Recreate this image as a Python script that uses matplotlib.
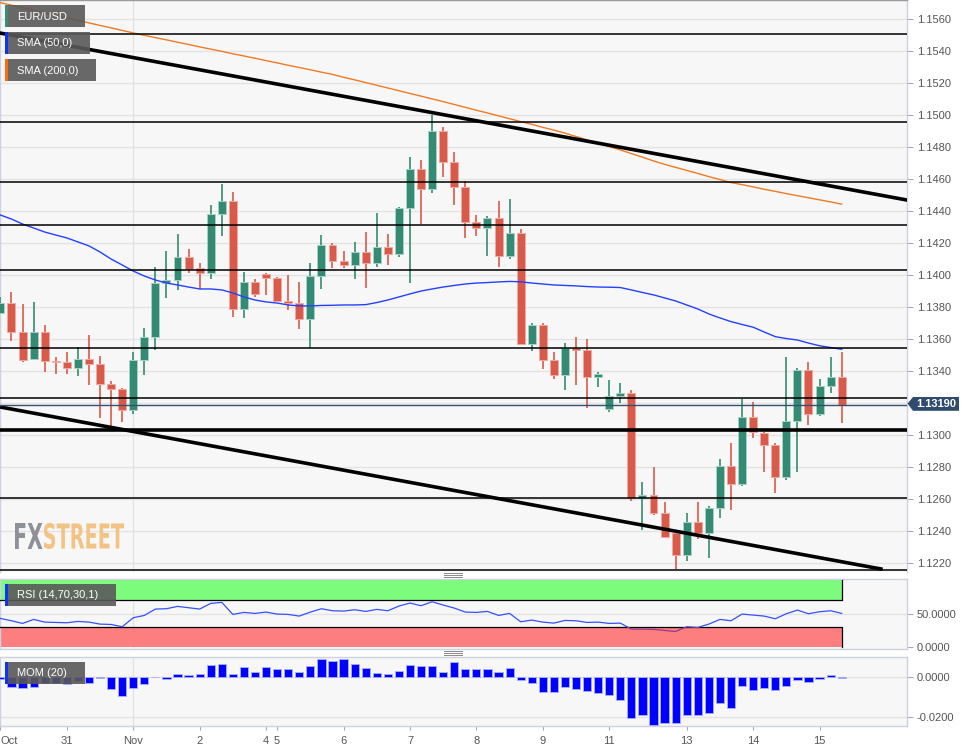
import matplotlib
matplotlib.use("Agg")
import matplotlib.pyplot as plt
import numpy as np
from matplotlib.patches import Rectangle, Polygon, PathPatch
from matplotlib.textpath import TextPath
from matplotlib.font_manager import FontProperties
from matplotlib.transforms import Affine2D, IdentityTransform
from matplotlib.lines import Line2D

plt.rcParams['font.family'] = ['Liberation Sans', 'DejaVu Sans']

# ---------------- data (EUR/USD, 4h candles, Oct 30 - Nov 15) ----------------
opens = [1.13764, 1.13823, 1.13642, 1.13473, 1.13642, 1.13464, 1.13458, 1.13417, 1.13475, 1.13444,
         1.13319, 1.13286, 1.13156, 1.13469, 1.13611, 1.13952, 1.13969, 1.14111, 1.14044, 1.14011,
         1.14379, 1.14463, 1.13786, 1.13956, 1.14008, 1.13981, 1.13838, 1.13823, 1.13727, 1.13996,
         1.14189, 1.14089, 1.14064, 1.14142, 1.14077, 1.14173, 1.14129, 1.14419, 1.14661, 1.14539,
         1.14902, 1.14708, 1.14552, 1.14333, 1.14296, 1.14358, 1.14117, 1.14263, 1.13569, 1.13686,
         1.13469, 1.13374, 1.13546, 1.13531, 1.13364, 1.13161, 1.13246, 1.13264, 1.12604, 1.12625,
         1.12511, 1.12386, 1.12248, 1.12458, 1.12389, 1.12542, 1.12808, 1.12694, 1.13114, 1.13011,
         1.12938, 1.12736, 1.13088, 1.13406, 1.13129, 1.13306, 1.13364]
highs = [1.13864, 1.13892, 1.13817, 1.13829, 1.13686, 1.13489, 1.13517, 1.13548, 1.13625, 1.13496,
         1.13336, 1.13294, 1.13517, 1.13667, 1.14048, 1.14152, 1.14256, 1.14163, 1.14073, 1.14438,
         1.14569, 1.14517, 1.14017, 1.13975, 1.14010, 1.13990, 1.13999, 1.13954, 1.14073, 1.14250,
         1.14198, 1.14152, 1.14204, 1.14271, 1.14386, 1.14254, 1.14423, 1.14739, 1.14719, 1.15000,
         1.14923, 1.14767, 1.14588, 1.14375, 1.14369, 1.14463, 1.14475, 1.14288, 1.13698, 1.13698,
         1.13521, 1.13573, 1.13614, 1.13598, 1.13392, 1.13344, 1.13327, 1.13281, 1.12708, 1.12802,
         1.12583, 1.12406, 1.12511, 1.12583, 1.12556, 1.12848, 1.12952, 1.13223, 1.13204, 1.13021,
         1.12948, 1.13489, 1.13417, 1.13454, 1.13348, 1.13486, 1.13521]
lows = [1.13760, 1.13588, 1.13458, 1.13467, 1.13392, 1.13381, 1.13379, 1.13369, 1.13313, 1.13104,
        1.13052, 1.13083, 1.13131, 1.13375, 1.13531, 1.13854, 1.13906, 1.14011, 1.13913, 1.13973,
        1.14244, 1.13739, 1.13729, 1.13864, 1.13873, 1.13830, 1.13781, 1.13661, 1.13542, 1.13911,
        1.14042, 1.14042, 1.13973, 1.13917, 1.14052, 1.14063, 1.14114, 1.13952, 1.14319, 1.14514,
        1.14614, 1.14436, 1.14229, 1.14246, 1.14121, 1.14048, 1.14098, 1.13560, 1.13525, 1.13411,
        1.13353, 1.13281, 1.13311, 1.13167, 1.13302, 1.13146, 1.13198, 1.12588, 1.12406, 1.12500,
        1.12361, 1.12161, 1.12213, 1.12348, 1.12229, 1.12479, 1.12531, 1.12683, 1.12979, 1.12767,
        1.12636, 1.12719, 1.12767, 1.13061, 1.13119, 1.13264, 1.13077]
closes = [1.13823, 1.13642, 1.13469, 1.13642, 1.13464, 1.13458, 1.13417, 1.13475, 1.13444, 1.13319,
          1.13286, 1.13156, 1.13469, 1.13611, 1.13952, 1.13969, 1.14111, 1.14036, 1.14011, 1.14379,
          1.14463, 1.13786, 1.13956, 1.13879, 1.13983, 1.13839, 1.13823, 1.13727, 1.13996, 1.14189,
          1.14089, 1.14064, 1.14142, 1.14077, 1.14173, 1.14129, 1.14419, 1.14661, 1.14539, 1.14902,
          1.14708, 1.14552, 1.14333, 1.14296, 1.14358, 1.14117, 1.14263, 1.13569, 1.13686, 1.13469,
          1.13374, 1.13546, 1.13531, 1.13364, 1.13381, 1.13246, 1.13264, 1.12604, 1.12625, 1.12511,
          1.12364, 1.12248, 1.12458, 1.12389, 1.12542, 1.12808, 1.12694, 1.13114, 1.13017, 1.12938,
          1.12736, 1.13088, 1.13406, 1.13129, 1.13306, 1.13364, 1.13190]

sma50 = [1.14375, 1.14350, 1.14319, 1.14294, 1.14269, 1.14250, 1.14232, 1.14207, 1.14182, 1.14144,
         1.14100, 1.14063, 1.14025, 1.13994, 1.13969, 1.13950, 1.13938, 1.13925, 1.13913, 1.13913,
         1.13907, 1.13888, 1.13863, 1.13844, 1.13832, 1.13825, 1.13813, 1.13807, 1.13807, 1.13810,
         1.13811, 1.13813, 1.13813, 1.13815, 1.13828, 1.13844, 1.13863, 1.13882, 1.13900, 1.13913,
         1.13925, 1.13935, 1.13944, 1.13950, 1.13953, 1.13957, 1.13960, 1.13958, 1.13950, 1.13944,
         1.13938, 1.13935, 1.13932, 1.13928, 1.13925, 1.13924, 1.13922, 1.13907, 1.13891, 1.13876,
         1.13857, 1.13838, 1.13813, 1.13788, 1.13757, 1.13732, 1.13709, 1.13691, 1.13674, 1.13644,
         1.13615, 1.13603, 1.13594, 1.13575, 1.13558, 1.13547, 1.13536]
sma200 = [1.15702, 1.15687, 1.15671, 1.15655, 1.15639, 1.15623, 1.15608, 1.15592, 1.15576, 1.15560,
          1.15545, 1.15529, 1.15513, 1.15498, 1.15484, 1.15470, 1.15455, 1.15441, 1.15426, 1.15412,
          1.15398, 1.15383, 1.15369, 1.15355, 1.15340, 1.15326, 1.15311, 1.15297, 1.15283, 1.15268,
          1.15254, 1.15236, 1.15220, 1.15203, 1.15186, 1.15169, 1.15152, 1.15135, 1.15118, 1.15101,
          1.15084, 1.15066, 1.15048, 1.15030, 1.15013, 1.14995, 1.14977, 1.14959, 1.14942, 1.14923,
          1.14906, 1.14887, 1.14866, 1.14845, 1.14824, 1.14803, 1.14782, 1.14759, 1.14737, 1.14713,
          1.14692, 1.14673, 1.14654, 1.14635, 1.14615, 1.14597, 1.14578, 1.14565, 1.14551, 1.14536,
          1.14523, 1.14509, 1.14496, 1.14483, 1.14470, 1.14457, 1.14443]
rsi = [43, 39.5, 35.5, 41.5, 37.5, 37, 36.5, 38.5, 37.5, 34.5,
       34, 30.5, 44, 47.5, 57, 57.5, 61, 59, 57, 65.5,
       67, 49, 52, 50.5, 52.5, 49.5, 49, 46.5, 52.5, 57.5,
       54.5, 54, 56, 53.5, 56.5, 54.5, 61.5, 66, 62, 68,
       63, 58.5, 52.5, 52, 53.5, 47.5, 50.5, 38, 40.5, 37.5,
       36, 40, 39.5, 37, 37.5, 35.5, 36, 27, 27, 26.5,
       25, 23.5, 30.5, 29.5, 34.5, 41.5, 39.5, 49.5, 48, 46.5,
       42.5, 50, 55.5, 50, 53, 54.5, 50.5]
mom = [-0.0006, -0.0047, -0.0052, -0.0047, -0.0027, -0.0027, -0.0034, -0.0017, -0.0030, -0.0005,
       -0.0059, -0.0092, -0.0055, -0.0035, 0.0000, -0.0009, 0.0017, 0.0013, 0.0015, 0.0062,
       0.0065, 0.0015, 0.0050, 0.0025, 0.0054, 0.0040, 0.0042, 0.0027, 0.0057, 0.0091,
       0.0084, 0.0092, 0.0069, 0.0049, 0.0024, 0.0017, 0.0034, 0.0064, 0.0055, 0.0055,
       0.0027, 0.0079, 0.0042, 0.0042, 0.0040, 0.0029, 0.0045, -0.0013, -0.0030, -0.0072,
       -0.0072, -0.0050, -0.0060, -0.0071, -0.0077, -0.0087, -0.0114, -0.0205, -0.0191, -0.0240,
       -0.0230, -0.0230, -0.0188, -0.0191, -0.0181, -0.0129, -0.0156, -0.0044, -0.0065, -0.0052,
       -0.0062, -0.0044, -0.0013, -0.0022, -0.0007, 0.0012, -0.0005]

x_labels = ['Oct', '31', 'Nov', '2', '4', '5', '6', '7', '8', '9', '11', '13', '14', '15']
x_label_idx = [0, 6, 12, 18, 24, 25, 31, 37, 43, 49, 55, 62, 68, 74]
month_start_idx = 12
price_ticks = [1.1220, 1.1240, 1.1260, 1.1280, 1.1300, 1.1320, 1.1340, 1.1360, 1.1380,
               1.1400, 1.1420, 1.1440, 1.1460, 1.1480, 1.1500, 1.1520, 1.1540, 1.1560]
hidden_tick = 1.1320  # covered by the last-price tag
rsi_ticks = [0, 50]
mom_ticks = [-0.02, 0.0]

sr_levels = [1.15506, 1.14956, 1.14581, 1.14313, 1.14031, 1.13544, 1.13231, 1.12606, 1.12156]
key_level = 1.13031
upper_trend_idx = [0, 80]
upper_trend_px = [1.15512, 1.14493]
lower_trend_idx = [0, 79.7]
lower_trend_px = [1.13175, 1.12161]
last_price = 1.13190
rsi_upper, rsi_lower = 70, 30

for arr in (opens, highs, lows, closes, sma50, sma200, rsi, mom):
    assert len(arr) == 77

# ---------------- style ----------------
W, H = 978, 752
GREEN, RED = '#358a73', '#d85a4b'
GREEN_E, RED_E = '#a6d2c5', '#f1aaa1'
BG = '#f7f7f7'
GRID = '#e3e3e3'
SPINE = '#cdd1e0'
LABEL = '#555555'
XL = (-0.036, 81.9)

fig = plt.figure(figsize=(W / 100, H / 100), dpi=100)
fig.patch.set_facecolor('white')


def fax(x0, y0, x1, y1):
    return fig.add_axes([x0 / W, 1 - y1 / H, (x1 - x0) / W, (y1 - y0) / H])


ax = fax(0, 0, 907, 572)
ax_rsi = fax(0, 579, 907, 648.5)
ax_mom = fax(0, 657.3, 907, 726)

for a in (ax, ax_rsi, ax_mom):
    a.set_facecolor(BG)
    a.set_xlim(*XL)
    a.yaxis.tick_right()
    a.tick_params(axis='y', length=4, color='#aaaaaa', labelcolor=LABEL, labelsize=8, pad=3)
    for s in a.spines.values():
        s.set_color(SPINE)
        s.set_linewidth(1)
    a.axvline(month_start_idx, color=GRID, lw=1, zorder=0)

ax.spines['top'].set_color('#9a9a9a')
ax.spines['bottom'].set_visible(False)
for a in (ax, ax_rsi):
    a.tick_params(axis='x', bottom=False, labelbottom=False)

# ---------------- main price panel ----------------
k = np.arange(len(closes))
o = np.array(opens); c = np.array(closes); h = np.array(highs); l = np.array(lows)
up = c >= o
cols = np.where(up, GREEN, RED)
ecols = np.where(up, GREEN_E, RED_E)

ax.set_ylim(1.12144, 1.15719)
ax.set_yticks(price_ticks)
ax.set_yticklabels(['' if abs(t - hidden_tick) < 1e-6 else f'{t:.4f}' for t in price_ticks])
for t in price_ticks:
    ax.axhline(t, color=GRID, lw=1, zorder=0)

ax.vlines(k, l, h, colors=cols, lw=1.2, zorder=3)
ax.bar(k, np.maximum(np.abs(c - o), 0.00005), bottom=np.minimum(o, c), width=0.72,
       color=cols, edgecolor=ecols, linewidth=0.7, zorder=4)

ax.plot(k, sma50, color='#2440ff', lw=1.0, zorder=5)
ax.plot(k, sma200, color='#f07a22', lw=1.0, zorder=5)

for lv in sr_levels:
    ax.axhline(lv, color='black', lw=1.1, zorder=6)
ax.axhline(key_level, color='black', lw=2.6, zorder=6)
ax.axline((upper_trend_idx[0], upper_trend_px[0]), (upper_trend_idx[1], upper_trend_px[1]),
          color='black', lw=2.6, zorder=6)
slope = (lower_trend_px[1] - lower_trend_px[0]) / (lower_trend_idx[1] - lower_trend_idx[0])
ax.plot([XL[0], lower_trend_idx[1]],
        [lower_trend_px[0] + slope * (XL[0] - lower_trend_idx[0]), lower_trend_px[1]],
        color='black', lw=2.6, zorder=6, solid_capstyle='butt')
ax.axhline(last_price, color='#34506f', lw=1.0, zorder=6)

# ---------------- RSI panel ----------------
ax_rsi.set_ylim(-2, 102)
ax_rsi.set_yticks(rsi_ticks)
ax_rsi.set_yticklabels([f'{t:.4f}' for t in rsi_ticks])
ax_rsi.axhline(50, color=GRID, lw=1, zorder=0)
xe = k[-1]
ax_rsi.fill_between([XL[0], xe], rsi_upper, 100, color='#7dfb7d', lw=0, zorder=2)
ax_rsi.fill_between([XL[0], xe], 0, rsi_lower, color='#fd7e7e', lw=0, zorder=2)
ax_rsi.plot([XL[0], xe, xe], [rsi_upper, rsi_upper, 100], color='black', lw=0.9, zorder=3)
ax_rsi.plot([XL[0], xe, xe], [rsi_lower, rsi_lower, 0], color='black', lw=0.9, zorder=3)
line_hi, = ax_rsi.plot(k, rsi, color='#3550ff', lw=0.9, zorder=4)
line_lo, = ax_rsi.plot(k, rsi, color='#8a3f8c', lw=0.9, zorder=4)
clip_hi = Rectangle((XL[0], rsi_lower), XL[1] - XL[0], 200, transform=ax_rsi.transData)
clip_lo = Rectangle((XL[0], -10), XL[1] - XL[0], 10 + rsi_lower, transform=ax_rsi.transData)
line_hi.set_clip_path(clip_hi)
line_lo.set_clip_path(clip_lo)

# ---------------- MOM panel ----------------
ax_mom.set_ylim(-0.0245, 0.0101)
ax_mom.set_yticks(mom_ticks)
ax_mom.set_yticklabels([f'{t:.4f}' for t in mom_ticks])
for t in mom_ticks:
    ax_mom.axhline(t, color=GRID, lw=1, zorder=0)
ax_mom.bar(k, mom, width=0.74, color='#0000ff', edgecolor='#a9afff', linewidth=0.6, zorder=3)
ax_mom.set_xticks(x_label_idx)
ax_mom.set_xticklabels(x_labels)
ax_mom.tick_params(axis='x', length=3, color='#aaaaaa', labelcolor=LABEL, labelsize=8, pad=4)
ax_mom.get_xticklabels()[0].set_horizontalalignment('left')

# ---------------- overlays (pixel coordinates) ----------------
ID = IdentityTransform()


def rect(x0, y0, x1, y1, **kw):
    fig.add_artist(Rectangle((x0, H - y1), x1 - x0, y1 - y0, transform=ID, **kw))


def legend_box(x0, y0, x1, y1, text, bar_color):
    rect(x0, y0, x1, y1, facecolor='#595959', alpha=0.9, edgecolor='none', zorder=10)
    rect(x0, y0, x0 + 2.6, y1, facecolor=bar_color, edgecolor='none', zorder=11)
    fig.text((x0 + 12) / W, 1 - ((y0 + y1) / 2 + 0.5) / H, text, color='white', fontsize=8,
             va='center', ha='left', zorder=12)


legend_box(5, 5, 85, 27, 'EUR/USD', '#3a8a74')
legend_box(5, 32, 90, 54, 'SMA (50,0)', '#1030ff')
legend_box(5, 59, 96, 81, 'SMA (200,0)', '#ff6a10')
legend_box(5, 584, 116, 606, 'RSI (14,70,30,1)', '#1030ff')
legend_box(5, 662, 85, 684, 'MOM (20)', '#1030ff')

# current price tag
tag = [(907.5, 403.6), (913, 397), (959, 397), (959, 410.8), (913, 410.8)]
fig.add_artist(Polygon([(x, H - y) for x, y in tag], closed=True, transform=ID,
                       facecolor='#2f4b6d', edgecolor='none', zorder=10))
fig.text(936 / W, 1 - 404.3 / H, f'{last_price:.5f}', color='white', fontsize=8,
         fontweight='bold', ha='center', va='center', zorder=12)

# watermark
fp = FontProperties(family='DejaVu Sans', weight='bold')
for txt, x0, x1, colr in (('FX', 15, 42.5, '#8f9199'), ('STREET', 44, 124, '#f3c385')):
    tp = TextPath((0, 0), txt, size=10, prop=fp)
    bb = tp.get_extents()
    tr = (Affine2D().translate(-bb.x0, -bb.y0)
          .scale((x1 - x0) / bb.width, 26 / bb.height)
          .translate(x0, H - 549))
    fig.add_artist(PathPatch(tp, transform=tr, facecolor=colr, edgecolor='none', zorder=1))

# panel separator grips
for yy in (573.2, 575.2, 577.2, 651.2, 653.2, 655.2):
    fig.add_artist(Line2D([444 / W, 462 / W], [1 - yy / H, 1 - yy / H], transform=fig.transFigure,
                          color='#8a8a8a', lw=0.7, zorder=10))

fig.savefig('out.png', dpi=100, facecolor='white')
